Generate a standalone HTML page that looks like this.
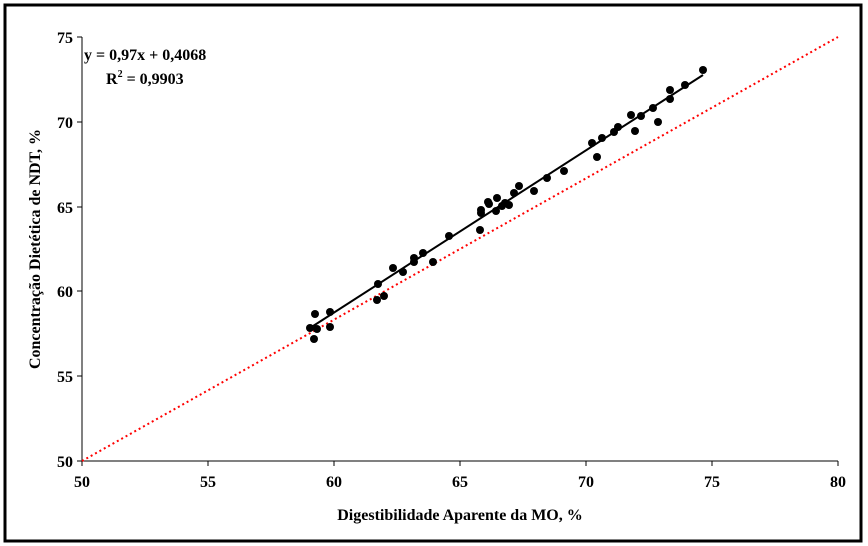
<!DOCTYPE html>
<html><head><style>body{margin:0;background:#fff}svg{display:block}text{font-family:"Liberation Serif",serif;font-weight:bold}</style></head><body>
<svg width="868" height="546" viewBox="0 0 868 546">
<rect x="5" y="5" width="856" height="536" fill="#fff" stroke="#000" stroke-width="3"/>
<g stroke="#000" stroke-width="1">
<line x1="82" y1="37" x2="82" y2="461"/><line x1="82" y1="461" x2="838" y2="461"/>
<line x1="77" y1="37" x2="82" y2="37"/><line x1="77" y1="122" x2="82" y2="122"/><line x1="77" y1="207" x2="82" y2="207"/><line x1="77" y1="291" x2="82" y2="291"/><line x1="77" y1="376" x2="82" y2="376"/><line x1="77" y1="461" x2="82" y2="461"/>
<line x1="82" y1="461" x2="82" y2="466"/><line x1="208" y1="461" x2="208" y2="466"/><line x1="334" y1="461" x2="334" y2="466"/><line x1="460" y1="461" x2="460" y2="466"/><line x1="586" y1="461" x2="586" y2="466"/><line x1="712" y1="461" x2="712" y2="466"/><line x1="838" y1="461" x2="838" y2="466"/>
</g>
<g font-size="16" text-anchor="end">
<text x="73" y="43">75</text><text x="73" y="128">70</text><text x="73" y="213">65</text><text x="73" y="297">60</text><text x="73" y="382">55</text><text x="73" y="467">50</text>
</g>
<g font-size="16" text-anchor="middle">
<text x="82" y="487">50</text><text x="208" y="487">55</text><text x="334" y="487">60</text><text x="460" y="487">65</text><text x="586" y="487">70</text><text x="712" y="487">75</text><text x="838" y="487">80</text>
<text x="460" y="520">Digestibilidade Aparente da MO, %</text>
<text transform="translate(40,249) rotate(-90)">Concentração Dietética de NDT, %</text>
</g>
<text x="84" y="60" font-size="16">y = 0,97x + 0,4068</text>
<text x="106" y="84" font-size="16">R<tspan font-size="10" dy="-7">2</tspan><tspan dy="7"> = 0,9903</tspan></text>
<line x1="82" y1="461" x2="838" y2="37" stroke="#f00" stroke-width="2" stroke-dasharray="2,3"/>
<line x1="310" y1="328" x2="703" y2="75" stroke="#000" stroke-width="2"/>
<g fill="#000">
<circle cx="310" cy="328" r="4"/><circle cx="315" cy="314" r="4"/><circle cx="314" cy="339" r="4"/><circle cx="317" cy="329" r="4"/><circle cx="330" cy="312" r="4"/><circle cx="330" cy="327" r="4"/><circle cx="377" cy="300" r="4"/><circle cx="378" cy="284" r="4"/><circle cx="384" cy="296" r="4"/><circle cx="393" cy="268" r="4"/><circle cx="403" cy="272" r="4"/><circle cx="414" cy="258" r="4"/><circle cx="414" cy="262" r="4"/><circle cx="423" cy="253" r="4"/><circle cx="433" cy="262" r="4"/><circle cx="449" cy="236" r="4"/><circle cx="480" cy="230" r="4"/><circle cx="481" cy="210" r="4"/><circle cx="481" cy="213" r="4"/><circle cx="488" cy="202" r="4"/><circle cx="489" cy="204" r="4"/><circle cx="497" cy="198" r="4"/><circle cx="496" cy="211" r="4"/><circle cx="502" cy="206" r="4"/><circle cx="505" cy="203" r="4"/><circle cx="509" cy="205" r="4"/><circle cx="514" cy="193" r="4"/><circle cx="519" cy="186" r="4"/><circle cx="534" cy="191" r="4"/><circle cx="547" cy="178" r="4"/><circle cx="564" cy="171" r="4"/><circle cx="592" cy="143" r="4"/><circle cx="597" cy="157" r="4"/><circle cx="602" cy="138" r="4"/><circle cx="614" cy="132" r="4"/><circle cx="618" cy="127" r="4"/><circle cx="631" cy="115" r="4"/><circle cx="635" cy="131" r="4"/><circle cx="641" cy="116" r="4"/><circle cx="653" cy="108" r="4"/><circle cx="658" cy="122" r="4"/><circle cx="670" cy="90" r="4"/><circle cx="670" cy="99" r="4"/><circle cx="685" cy="85" r="4"/><circle cx="703" cy="70" r="4"/>
</g>
</svg>
</body></html>
